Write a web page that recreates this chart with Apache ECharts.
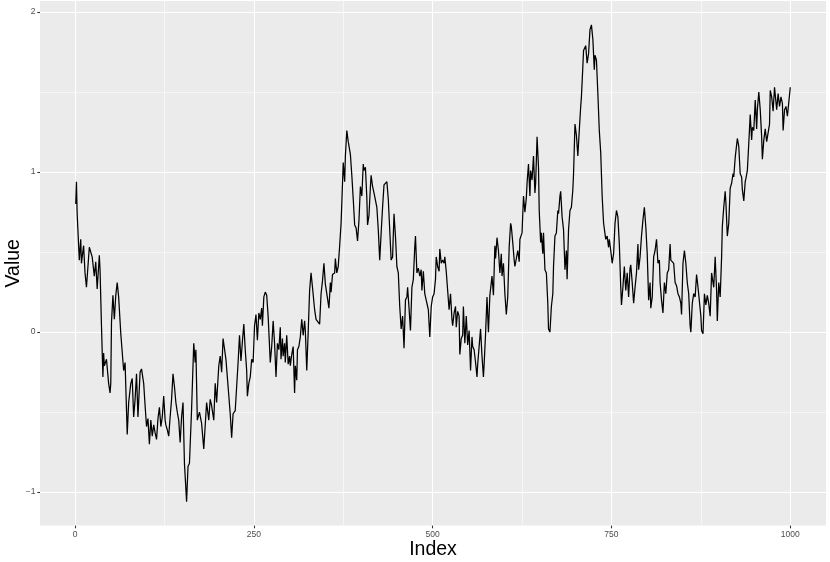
<!DOCTYPE html>
<html>
<head>
<meta charset="utf-8">
<script src="https://cdn.jsdelivr.net/npm/echarts@6/dist/echarts.min.js"></script>
<style>
  html, body { margin: 0; padding: 0; background: #fff; }
  #chart { width: 830px; height: 562px; }
</style>
</head>
<body>
<div id="chart"></div>
<script>
// tick positions
const xTicks = [0, 250, 500, 750, 1000];
const xMinorTicks = [125, 375, 625, 875];
const yTicks = [-1, 0, 1, 2];
const yMinorTicks = [-0.5, 0.5, 1.5];

// axis titles
const xTitle = 'Index';
const yTitle = 'Value';

// [index, value] pairs, one array per stretch
const walk0to175 = [
  [1,0.80],[2,0.94],[3,0.74],[6,0.45],[8,0.58],[9,0.43],[12,0.54],[14,0.37],[16,0.28],[20,0.53],
  [22,0.54],[24,0.47],[27,0.35],[29,0.44],[31,0.27],[34,0.48],[35,0.39],[37,0.04],[39,-0.28],[40,-0.13],
  [41,-0.21],[44,-0.17],[47,-0.32],[49,-0.38],[50,-0.32],[51,0.06],[53,0.23],[55,0.08],[57,0.23],[59,0.31],
  [61,0.22],[64,-0.01],[68,-0.24],[70,-0.19],[73,-0.64],[75,-0.44],[78,-0.32],[80,-0.29],[82,-0.53],[84,-0.42],
  [86,-0.26],[88,-0.53],[91,-0.25],[93,-0.23],[96,-0.32],[98,-0.46],[100,-0.59],[102,-0.54],[104,-0.70],[106,-0.55],
  [108,-0.65],[110,-0.58],[112,-0.63],[114,-0.67],[116,-0.54],[118,-0.47],[120,-0.59],[122,-0.53],[124,-0.40],[126,-0.55],
  [127,-0.58],[129,-0.61],[131,-0.65],[133,-0.53],[135,-0.42],[137,-0.26],[139,-0.34],[141,-0.44],[143,-0.50],[145,-0.55],
  [147,-0.69],[149,-0.53],[151,-0.44],[153,-0.82],[156,-1.06],[158,-0.84],[160,-0.82],[163,-0.48],[166,-0.07],[168,-0.19],
  [169,-0.11],[171,-0.55],[174,-0.50]
];
const walk175to350 = [
  [177,-0.57],[180,-0.73],[184,-0.44],[187,-0.55],[189,-0.42],[191,-0.46],[194,-0.55],[196,-0.32],[198,-0.44],[201,-0.21],
  [203,-0.15],[205,-0.25],[207,-0.04],[209,-0.04],[211,-0.17],[214,-0.34],[217,-0.51],[219,-0.66],[221,-0.51],[224,-0.49],
  [226,-0.50],[228,-0.19],[230,-0.02],[232,-0.18],[234,-0.06],[236,0.05],[238,-0.11],[240,-0.24],[241,-0.40],[243,-0.32],
  [245,-0.28],[247,-0.17],[249,-0.19],[251,0.04],[253,0.11],[255,-0.05],[257,0.12],[259,0.08],[261,0.15],[262,0.04],
  [264,0.22],[266,0.25],[268,0.23],[270,0.10],[273,-0.19],[275,-0.09],[277,0.07],[279,-0.07],[281,-0.28],[283,-0.07],
  [285,-0.11],[287,0.03],[288,-0.17],[290,-0.04],[291,-0.15],[293,-0.07],[294,-0.19],[296,-0.02],[298,-0.20],[300,-0.15],
  [301,-0.21],[303,-0.14],[305,-0.09],[307,-0.38],[308,-0.21],[310,-0.30],[311,-0.11],[313,-0.09],[315,-0.03],[317,0.08],
  [319,-0.02],[321,0.07],[322,0.01],[324,-0.24],[326,0.00],[328,0.26],[330,0.37],[332,0.28],[334,0.27],[335,0.14],
  [337,0.08],[339,0.09],[342,0.05],[344,0.24],[346,0.32],[348,0.43]
];
const walk350to530 = [
  [350,0.30],[352,0.24],[355,0.15],[357,0.31],[358,0.25],[360,0.36],[363,0.37],[364,0.46],[366,0.37],[368,0.41],
  [370,0.54],[372,0.68],[374,0.93],[375,1.06],[377,0.94],[378,1.10],[380,1.26],[382,1.19],[384,1.18],[385,1.11],
  [387,0.98],[389,0.83],[391,0.67],[393,0.65],[395,0.57],[397,0.70],[399,0.91],[401,0.85],[403,1.05],[404,1.01],
  [406,1.03],[408,0.84],[409,0.67],[411,0.73],[413,0.91],[414,0.98],[416,0.91],[418,0.87],[420,0.88],[422,0.78],
  [424,0.64],[426,0.45],[428,0.62],[430,0.78],[432,0.92],[434,0.93],[436,0.94],[438,0.83],[440,0.64],[442,0.45],
  [444,0.47],[446,0.74],[448,0.60],[450,0.41],[452,0.37],[454,0.16],[456,0.02],[458,0.10],[460,-0.10],[462,0.20],
  [464,0.22],[465,0.28],[467,0.15],[469,0.01],[471,0.28],[473,0.33],[475,0.53],[476,0.60],[478,0.37],[480,0.40],
  [482,0.35],[484,0.39],[485,0.26],[487,0.38],[489,0.24],[491,0.20],[493,0.16],[494,0.14],[496,-0.03],[498,0.16],
  [500,0.22],[502,0.24],[504,0.33],[505,0.47],[507,0.41],[509,0.38],[510,0.52],[512,0.43],[514,0.45],[516,0.43],
  [517,0.47],[519,0.38],[521,0.26],[523,0.14],[525,0.24],[527,0.08],[528,0.04],[530,0.12]
];
const walk530to712 = [
  [532,0.16],[533,0.03],[535,0.13],[537,0.10],[538,-0.14],[540,-0.04],[542,-0.02],[543,0.16],[545,-0.07],[547,0.10],
  [549,-0.08],[551,0.01],[553,-0.24],[555,-0.03],[556,-0.09],[558,-0.11],[560,-0.19],[562,-0.28],[563,-0.20],[565,-0.21],
  [567,0.02],[569,-0.15],[571,-0.28],[572,-0.20],[574,-0.01],[576,0.22],[578,0.00],[580,0.23],[581,0.24],[583,0.35],
  [585,0.23],[587,0.54],[588,0.46],[590,0.59],[592,0.51],[594,0.37],[596,0.49],[597,0.35],[599,0.43],[601,0.24],
  [603,0.11],[605,0.22],[607,0.53],[609,0.68],[610,0.66],[612,0.56],[614,0.45],[615,0.41],[617,0.46],[619,0.51],
  [621,0.44],[622,0.58],[625,0.62],[627,0.85],[629,0.75],[631,0.84],[632,0.93],[634,1.05],[636,0.85],[637,1.01],
  [639,0.95],[641,1.10],[643,0.87],[644,0.93],[646,1.22],[648,1.03],[649,0.76],[651,0.56],[652,0.62],[654,0.49],
  [655,0.62],[657,0.39],[659,0.37],[661,0.18],[662,0.02],[664,0.00],[666,0.16],[668,0.24],[669,0.41],[671,0.60],
  [673,0.62],[675,0.76],[676,0.74],[678,0.85],[679,0.88],[681,0.72],[683,0.64],[685,0.39],[687,0.51],[688,0.33],
  [690,0.64],[692,0.76],[694,0.78],[696,0.89],[697,0.99],[699,1.30],[701,1.23],[703,1.10],[705,1.26],[707,1.41],
  [708,1.47],[710,1.66],[711,1.76]
];
const walk712to1000 = [
  [714,1.79],[716,1.68],[718,1.74],[720,1.89],[722,1.92],[724,1.83],[726,1.64],[727,1.73],[729,1.70],[731,1.49],
  [733,1.26],[735,1.12],[737,0.85],[739,0.68],[742,0.58],[744,0.60],[746,0.53],[747,0.58],[749,0.51],[751,0.43],
  [753,0.49],[755,0.68],[757,0.76],[759,0.72],[761,0.55],[763,0.28],[764,0.17],[766,0.28],[768,0.41],[770,0.26],
  [772,0.37],[774,0.22],[776,0.40],[777,0.42],[779,0.31],[781,0.18],[783,0.28],[785,0.37],[787,0.55],[788,0.39],
  [790,0.47],[792,0.60],[794,0.70],[796,0.78],[798,0.66],[800,0.49],[802,0.20],[804,0.31],[805,0.15],[807,0.22],
  [809,0.47],[811,0.51],[813,0.58],[815,0.43],[817,0.45],[818,0.31],[820,0.20],[822,0.12],[824,0.31],[826,0.24],
  [828,0.37],[830,0.39],[832,0.55],[833,0.45],[835,0.46],[837,0.43],[839,0.31],[841,0.29],[843,0.24],[845,0.22],
  [847,0.18],[848,0.11],[850,0.43],[852,0.51],[854,0.43],[856,0.31],[858,0.24],[860,0.04],[861,0.00],[863,0.18],
  [865,0.24],[867,0.22],[869,0.36],[871,0.28],[873,0.28],[875,0.10],[876,0.01],[878,-0.01],[880,0.24],[882,0.17],
  [884,0.23],[886,0.18],[888,0.10],[890,0.37],[892,0.38],[893,0.28],[895,0.47],[897,0.26],[898,0.07],[900,0.31],
  [902,0.22],[904,0.47],[905,0.66],[907,0.78],[909,0.88],[910,0.81],[912,0.60],[914,0.68],[916,0.90],[918,0.93],
  [920,0.99],[921,0.97],[923,1.09],[924,1.08],[926,1.21],[928,1.16],[930,0.99],[932,0.97],[933,0.89],[935,0.82],
  [937,0.94],[938,0.96],[940,1.01],[942,1.18],[944,1.36],[946,1.20],[947,1.28],[949,1.26],[951,1.45],[953,1.27],
  [954,1.39],[956,1.50],[958,1.39],[960,1.22],[961,1.08],[963,1.20],[965,1.27],[967,1.19],[969,1.19],[971,1.30],
  [972,1.51],[974,1.47],[976,1.38],[978,1.53],[980,1.52],[981,1.39],[983,1.49],[985,1.41],[987,1.47],[989,1.43],
  [990,1.26],[992,1.39],[994,1.41],[996,1.35],[998,1.34],[1000,1.53]
];

const walk = [].concat(walk0to175, walk175to350, walk350to530, walk530to712, walk712to1000);

// ggplot style default range padding (5% each side)
const xMin = -48.95, xMax = 1049.95;
const yMin = -1.209, yMax = 2.069;

const chart = echarts.init(document.getElementById('chart'), null, { renderer: 'canvas' });

const font = 'Liberation Sans, Arial, sans-serif';
// no thousands separator, true minus sign like ggplot
const plain = v => String(v).replace('-', '\u2212');

const option = {
  animation: false,
  backgroundColor: '#ffffff',
  grid: {
    left: 40, right: 4, top: 1, bottom: 36.4,
    containLabel: false,
    outerBoundsMode: 'none',
    show: true, backgroundColor: '#ebebeb', borderWidth: 0
  },
  // axis titles placed like ggplot's
  graphic: [
    {
      type: 'text', x: 433, y: 549.5,
      style: { text: xTitle, font: '19.5px ' + font, fill: '#000', align: 'center', verticalAlign: 'middle' }
    },
    {
      type: 'text', x: 13.5, y: 263.3, rotation: Math.PI / 2,
      style: { text: yTitle, font: '19.5px ' + font, fill: '#000', align: 'center', verticalAlign: 'middle' }
    }
  ],
  xAxis: [
    {
      type: 'value', min: xMin, max: xMax,
      axisLine: { show: false, onZero: false },
      axisTick: { show: true, length: 2.7, customValues: xTicks, lineStyle: { color: '#333', width: 1.07 } },
      axisLabel: { customValues: xTicks, formatter: plain, margin: 4.5, fontFamily: font, fontSize: 8.5, color: '#4d4d4d' },
      splitLine: { show: true, lineStyle: { color: '#ffffff', width: 1.07 } }
    },
    {
      type: 'value', min: xMin, max: xMax, position: 'bottom',
      axisLine: { show: false, onZero: false },
      axisTick: { show: false, customValues: xMinorTicks },
      axisLabel: { show: false, customValues: xMinorTicks },
      splitLine: { show: true, lineStyle: { color: '#ffffff', width: 0.55 } }
    }
  ],
  yAxis: [
    {
      type: 'value', min: yMin, max: yMax,
      axisLine: { show: false, onZero: false },
      axisTick: { show: true, length: 2.7, customValues: yTicks, lineStyle: { color: '#333', width: 1.07 } },
      axisLabel: { customValues: yTicks, formatter: plain, margin: 4.5, fontFamily: font, fontSize: 8.5, color: '#4d4d4d' },
      splitLine: { show: true, lineStyle: { color: '#ffffff', width: 1.07 } }
    },
    {
      type: 'value', min: yMin, max: yMax, position: 'left',
      axisLine: { show: false, onZero: false },
      axisTick: { show: false, customValues: yMinorTicks },
      axisLabel: { show: false, customValues: yMinorTicks },
      splitLine: { show: true, lineStyle: { color: '#ffffff', width: 0.55 } }
    }
  ],
  series: [
    {
      type: 'line',
      xAxisIndex: 0,
      yAxisIndex: 0,
      data: walk,
      showSymbol: false,
      symbol: 'none',
      lineStyle: { color: '#000000', width: 1.25 },
      z: 5
    }
  ]
};

chart.setOption(option);
</script>
</body>
</html>
